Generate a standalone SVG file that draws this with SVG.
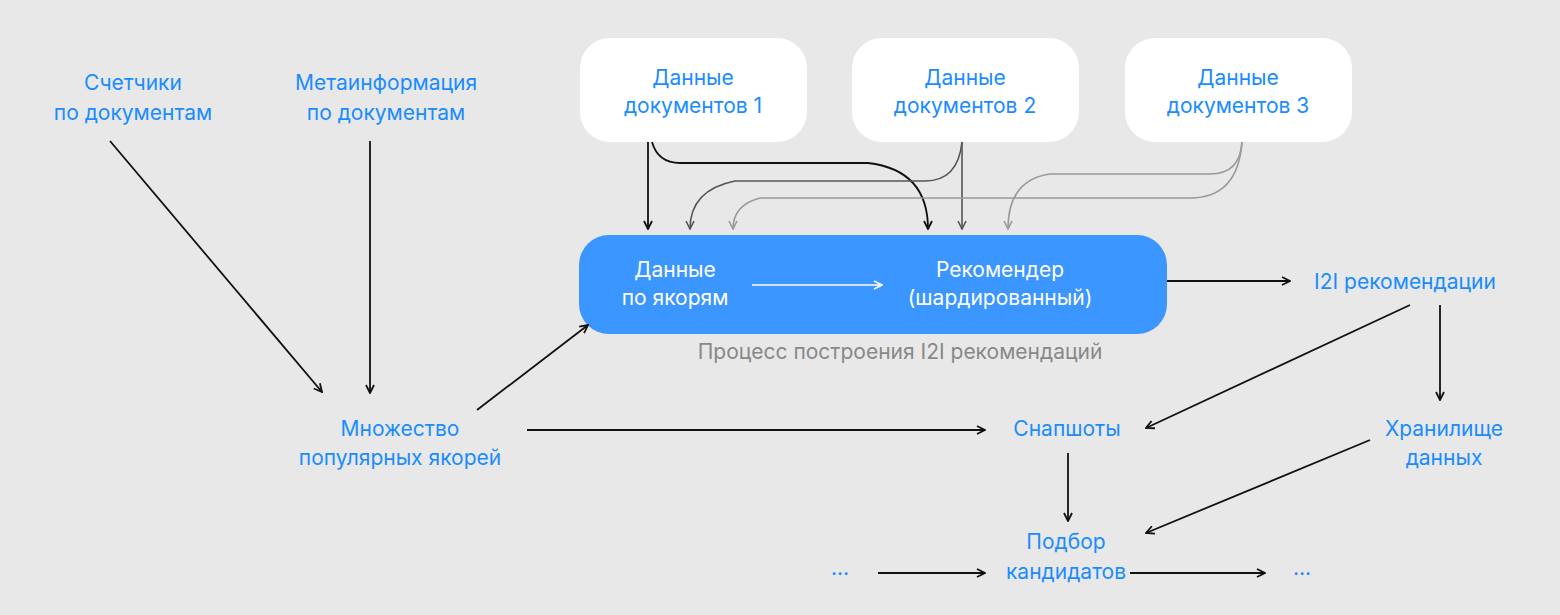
<svg xmlns="http://www.w3.org/2000/svg" width="1560" height="615" viewBox="0 0 1560 615">
<defs>
<style>
text{font-family:Inter,"Liberation Sans",sans-serif;font-size:21px;fill:#1a8cff;text-anchor:middle}
.w{fill:#fff}
.g{fill:#888}
.c{fill:none;stroke:#111;stroke-width:1.8}
.c2{fill:none;stroke:#555;stroke-width:1.6}
.c3{fill:none;stroke:#999;stroke-width:1.6}
</style>
<marker id="a" viewBox="0 0 10 10" refX="9" refY="5" markerWidth="10" markerHeight="10" markerUnits="userSpaceOnUse" orient="auto"><path d="M1,1L9,5L1,9" fill="none" stroke="#111" stroke-width="1.8"/></marker>
<marker id="a2" viewBox="0 0 10 10" refX="9" refY="5" markerWidth="10" markerHeight="10" markerUnits="userSpaceOnUse" orient="auto"><path d="M1,1L9,5L1,9" fill="none" stroke="#555" stroke-width="1.6"/></marker>
<marker id="a3" viewBox="0 0 10 10" refX="9" refY="5" markerWidth="10" markerHeight="10" markerUnits="userSpaceOnUse" orient="auto"><path d="M1,1L9,5L1,9" fill="none" stroke="#999" stroke-width="1.6"/></marker>
<marker id="aw" viewBox="0 0 10 10" refX="9" refY="5" markerWidth="10" markerHeight="10" markerUnits="userSpaceOnUse" orient="auto"><path d="M1,1L9,5L1,9" fill="none" stroke="#fff" stroke-width="1.6"/></marker>
</defs>
<rect width="1560" height="615" fill="#e8e8e8"/>
<g id="n1"><text x="133" y="90">Счетчики</text><text x="133" y="120">по документам</text></g>
<g id="n2"><text x="386" y="90">Метаинформация</text><text x="386" y="120">по документам</text></g>
<g id="d1"><rect x="580" y="38" width="227" height="104" rx="30" fill="#fff"/><text x="693" y="85">Данные</text><text x="693" y="113">документов 1</text></g>
<g id="d2"><rect x="852" y="38" width="227" height="104" rx="30" fill="#fff"/><text x="965" y="85">Данные</text><text x="965" y="113">документов 2</text></g>
<g id="d3"><rect x="1125" y="38" width="227" height="104" rx="30" fill="#fff"/><text x="1238" y="85">Данные</text><text x="1238" y="113">документов 3</text></g>
<g id="proc"><rect x="579" y="235" width="588" height="99" rx="30" fill="#3b96ff"/>
<text class="w" x="675" y="277">Данные</text><text class="w" x="675" y="305">по якорям</text>
<text class="w" x="1000" y="277">Рекомендер</text><text class="w" x="1000" y="305">(шардированный)</text>
<text class="g" x="900" y="359">Процесс построения I2I рекомендаций</text></g>
<g id="i2i"><text x="1405" y="289">I2I рекомендации</text></g>
<g id="mn"><text x="400" y="436">Множество</text><text x="400" y="465">популярных якорей</text></g>
<g id="sn"><text x="1067" y="436">Снапшоты</text></g>
<g id="hr"><text x="1444" y="436">Хранилище</text><text x="1444" y="465">данных</text></g>
<g id="pk"><text x="1066" y="549">Подбор</text><text x="1066" y="579">кандидатов</text></g>
<g id="dots1"><text x="840" y="575">...</text></g>
<g id="dots2"><text x="1302" y="575">...</text></g>
<g id="edges">
<path class="c" d="M110,141L322,392" marker-end="url(#a)"/>
<path class="c" d="M370,141V393" marker-end="url(#a)"/>
<path class="c" d="M477,410L588,325" marker-end="url(#a)"/>
<path class="c" d="M527,430H985" marker-end="url(#a)"/>
<path class="c" d="M1167,281H1290" marker-end="url(#a)"/>
<path class="c" d="M1410,305L1146,428" marker-end="url(#a)"/>
<path class="c" d="M1440,305V400" marker-end="url(#a)"/>
<path class="c" d="M1370,440L1146,533" marker-end="url(#a)"/>
<path class="c" d="M1068,453V521" marker-end="url(#a)"/>
<path class="c" d="M878,573H985" marker-end="url(#a)"/>
<path class="c" d="M1130,573H1265" marker-end="url(#a)"/>
<path fill="none" stroke="#fff" stroke-width="1.6" d="M752,285H882" marker-end="url(#aw)"/>
<path class="c" d="M648,142V229" marker-end="url(#a)"/>
<path class="c" d="M652,142Q658,163 680,163H868Q928,170 928,229" marker-end="url(#a)"/>
<path class="c2" d="M962,142V229" marker-end="url(#a2)"/>
<path class="c2" d="M962,142Q958,181 925,181H735Q690,190 690,229" marker-end="url(#a2)"/>
<path class="c3" d="M1242,142Q1240,174 1210,174H1050Q1008,180 1008,229" marker-end="url(#a3)"/>
<path class="c3" d="M1242,142Q1238,198 1190,198H760Q733,205 733,229" marker-end="url(#a3)"/>
</g>
</svg>
